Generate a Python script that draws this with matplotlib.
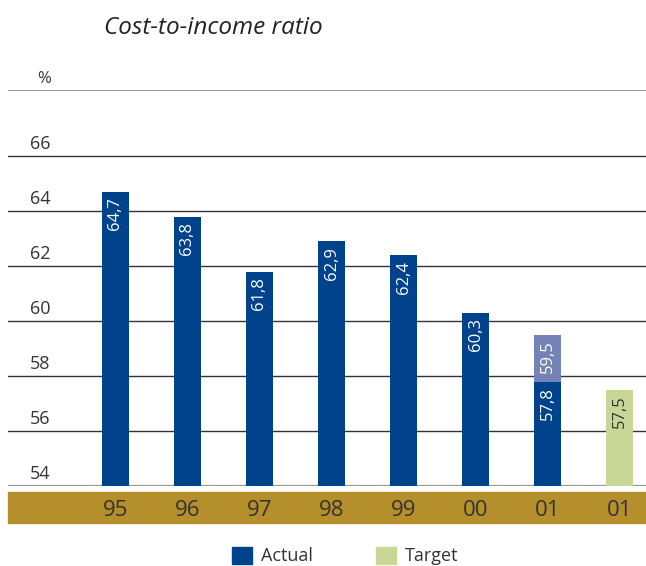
import matplotlib
matplotlib.use('Agg')
import matplotlib.pyplot as plt
from matplotlib.patches import Rectangle, Patch

plt.rcParams['font.family'] = ['Open Sans', 'DejaVu Sans']

years = ['95', '96', '97', '98', '99', '00', '01', '01']
actual = [64.7, 63.8, 61.8, 62.9, 62.4, 60.3, 57.8]
actual_extra = 59.5      # light part of 2001 bar
target = 57.5
y_ticks = [54, 56, 58, 60, 62, 64, 66]

blue = '#00438c'
light = '#7482b5'
green = '#c8d796'
gold = '#b58f2c'
base = 54

fig = plt.figure(figsize=(6.46, 5.66), dpi=100)
ax = fig.add_axes([8 / 646, 80 / 566, 638 / 646, 396 / 566])
ax.set_xlim(-1.493, 7.368)
ax.set_ylim(base, 68.4)

x = list(range(len(years)))
w = 0.375
ax.bar(x[:7], [v - base for v in actual], w, bottom=base, color=blue, zorder=3)
ax.bar(x[6], actual_extra - actual[6], w, bottom=actual[6], color=light, zorder=3)
ax.bar(x[7], target - base, w, bottom=base, color=green, zorder=3)

def fmt(v):
    return f'{v:.1f}'.replace('.', ',')

for i, v in enumerate(actual):
    ax.annotate(fmt(v), (x[i], v), xytext=(0, -4), textcoords='offset points',
                rotation=90, ha='center', va='top', color='white', fontsize=12, zorder=4)
ax.annotate(fmt(actual_extra), (x[6], actual_extra), xytext=(0, -4), textcoords='offset points',
            rotation=90, ha='center', va='top', color='white', fontsize=12, zorder=4)
ax.annotate(fmt(target), (x[7], target), xytext=(0, -4), textcoords='offset points',
            rotation=90, ha='center', va='top', color='#333333', fontsize=12, zorder=4)

# grid lines and y labels
for t in y_ticks[1:]:
    ax.axhline(t, color='#333333', lw=1.0, zorder=1)
ax.axhline(base, color='#999999', lw=1.6, zorder=1)
ax.axhline(68.4, color='#888888', lw=1.2, zorder=1)
for t in y_ticks:
    ax.annotate(str(t), (0, t), xycoords=('axes fraction', 'data'), xytext=(22, 3),
                textcoords='offset pixels', ha='left', va='bottom', fontsize=13, color='#333333')
ax.annotate('%', (0, 68.4), xycoords=('axes fraction', 'data'), xytext=(29, 3),
            textcoords='offset pixels', ha='left', va='bottom', fontsize=12, color='#333333')

for s in ax.spines.values():
    s.set_visible(False)
ax.set_yticks([])
ax.set_xticks([])

# gold band under the axis with year labels
ax.add_patch(Rectangle((0, -37 / 396), 1, 31 / 396, transform=ax.transAxes,
                       color=gold, clip_on=False, zorder=0))
for i, yr in enumerate(years):
    ax.annotate(yr, (x[i], 0), xycoords=('data', 'axes fraction'), xytext=(0, -24),
                textcoords='offset pixels', ha='center', va='center', fontsize=16,
                color='#333333', annotation_clip=False, zorder=5)

fig.text(104 / 646, 1 - 28 / 566, 'Cost-to-income ratio', fontsize=17.5, style='italic',
         color='#222222', ha='left', va='center')

handles = [Patch(color=blue, label='Actual'), Patch(color=green, label='Target')]
fig.legend(handles=handles, loc='center', bbox_to_anchor=(345 / 646, 10 / 566), ncol=2,
           frameon=False, fontsize=13, handlelength=1.1, handleheight=1.1,
           columnspacing=3.5, handletextpad=0.5, labelcolor='#333333')

plt.savefig('out.png', dpi=100)
